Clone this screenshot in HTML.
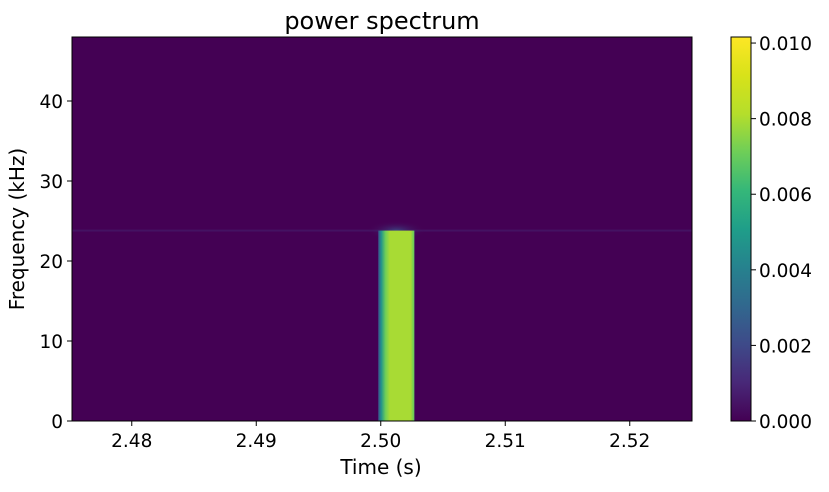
<!DOCTYPE html>
<html><head><meta charset="utf-8"><style>
body{margin:0;background:#fff;}
svg text{font-family:"DejaVu Sans","Liberation Sans",sans-serif;fill:#000;}
</style></head><body>
<svg width="829" height="487" viewBox="0 0 829 487">
<defs>
<linearGradient id="vir" x1="0" y1="1" x2="0" y2="0">
<stop offset="0" stop-color="#440154"/><stop offset="0.1" stop-color="#482878"/>
<stop offset="0.2" stop-color="#3e4a89"/><stop offset="0.3" stop-color="#31688e"/>
<stop offset="0.4" stop-color="#26828e"/><stop offset="0.5" stop-color="#1f9e89"/>
<stop offset="0.6" stop-color="#35b779"/><stop offset="0.7" stop-color="#6ece58"/>
<stop offset="0.8" stop-color="#b5de2b"/><stop offset="0.9" stop-color="#d8e219"/>
<stop offset="1" stop-color="#fde725"/></linearGradient>
<linearGradient id="barg" x1="0" y1="0" x2="1" y2="0">
<stop offset="0" stop-color="#3b528b"/><stop offset="0.08" stop-color="#21918c"/>
<stop offset="0.2" stop-color="#6ece58"/><stop offset="0.32" stop-color="#a8db34"/>
<stop offset="0.9" stop-color="#a8db34"/><stop offset="1" stop-color="#5ec962"/></linearGradient>
<radialGradient id="glow"><stop offset="0" stop-color="#3b528b" stop-opacity="0.8"/><stop offset="1" stop-color="#440154" stop-opacity="0"/></radialGradient>
</defs>
<text x="382" y="29" font-size="24" text-anchor="middle">power spectrum</text>
<g id="plot"></g>
<g id="cbar"></g>
<text x="381" y="474" font-size="20" text-anchor="middle">Time (s)</text>
<text transform="translate(24,229) rotate(-90)" font-size="20" text-anchor="middle">Frequency (kHz)</text>
</svg>
<script>
const xTicks=[2.48,2.49,2.50,2.51,2.52];
const xTickLabels=["2.48","2.49","2.50","2.51","2.52"];
const yTicks=[0,10,20,30,40];
const cTicks=[0,0.002,0.004,0.006,0.008,0.010];
const cTickLabels=["0.000","0.002","0.004","0.006","0.008","0.010"];
const pulseStart=[2.4998];
const pulseEnd=[2.5027];
const pulseFreqTop=[23.8];
const lineFreq=[23.8];
const xMin=2.4752,xMax=2.5250,yMin=0,yMax=48,cMax=0.01016;
const L=72,R=692,T=37,B=421;
const sx=v=>L+(v-xMin)/(xMax-xMin)*(R-L);
const sy=v=>B-(v-yMin)/(yMax-yMin)*(B-T);
const cy=v=>B-v/cMax*(B-T);
const NS='http://www.w3.org/2000/svg';
function mk(p,tag,a){const e=document.createElementNS(NS,tag);for(const k in a)e.setAttribute(k,a[k]);p.appendChild(e);return e;}
const plot=document.getElementById('plot');
const bg=mk(plot,'rect',{x:L,y:T,width:R-L,height:B-T,fill:'#440154'});


lineFreq.forEach(f=>{
 const l=mk(plot,'rect',{x:L,y:sy(f)-1,width:R-L,height:2,fill:'#46337e',opacity:0.35});
 
 
});
pulseStart.forEach((s,i)=>{
 const x0=sx(s),x1=sx(pulseEnd[i]),yt=sy(pulseFreqTop[i]);
 const g=mk(plot,'ellipse',{cx:(x0+x1)/2,cy:yt,rx:(x1-x0)/2+12,ry:10,fill:'url(#glow)'});
 
 
 const r=mk(plot,'rect',{x:x0,y:yt,width:x1-x0,height:B-yt,fill:'url(#barg)'});
 
 
});
const fr=mk(plot,'rect',{x:L,y:T,width:R-L,height:B-T,fill:'none',stroke:'#000','stroke-width':1});


xTicks.forEach((v,i)=>{
 mk(plot,'line',{x1:sx(v),x2:sx(v),y1:B,y2:B+5,stroke:'#000'});
 const t=mk(plot,'text',{x:sx(v),y:B+26,'font-size':18.5,'text-anchor':'middle'});t.textContent=xTickLabels[i];
 
 
});
yTicks.forEach(v=>{
 mk(plot,'line',{x1:L-5,x2:L,y1:sy(v),y2:sy(v),stroke:'#000'});
 const t=mk(plot,'text',{x:L-9,y:sy(v)+7,'font-size':18.5,'text-anchor':'end'});t.textContent=v;
 
 
});
const cb=document.getElementById('cbar');
const cr=mk(cb,'rect',{x:731,y:T,width:20,height:B-T,fill:'url(#vir)',stroke:'#000','stroke-width':1});


cTicks.forEach((v,i)=>{
 mk(cb,'line',{x1:751,x2:756,y1:cy(v),y2:cy(v),stroke:'#000'});
 const t=mk(cb,'text',{x:759,y:cy(v)+7,'font-size':18.5});t.textContent=cTickLabels[i];
 
 
});
</script>
</body></html>
